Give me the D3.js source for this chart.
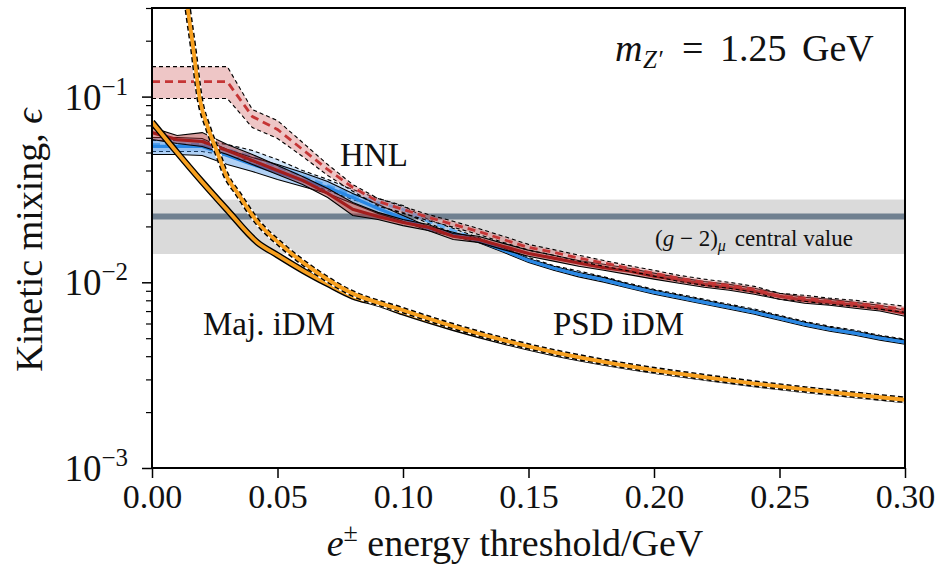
<!DOCTYPE html>
<html>
<head>
<meta charset="utf-8">
<script src="https://cdn.jsdelivr.net/npm/d3@7"></script>
<style>
  body { margin: 0; background: #fff; }
  svg { display: block; }
  text { font-family: "Liberation Serif", "DejaVu Serif", serif; fill: #111; }
</style>
</head>
<body>
<svg id="chart" width="936" height="570"></svg>
<script>
// energy threshold grid (GeV)
const grid = [0, 0.01, 0.02, 0.03, 0.04, 0.05, 0.06, 0.07, 0.08, 0.09, 0.10, 0.11, 0.12, 0.13, 0.14, 0.15,
              0.16, 0.17, 0.18, 0.19, 0.20, 0.21, 0.22, 0.23, 0.24, 0.25, 0.26, 0.27, 0.28, 0.29, 0.30];

// HNL, solid band
const hnlSolidMid = [0.0640, 0.0587, 0.0573, 0.0513, 0.0453, 0.0400, 0.0354, 0.0301, 0.0247, 0.0226, 0.0210, 0.0198, 0.0177, 0.0170, 0.0156, 0.0143,
                     0.0135, 0.0127, 0.0120, 0.0115, 0.0108, 0.0103, 0.00975, 0.0094, 0.00894, 0.00841, 0.0080, 0.0078, 0.00752, 0.00725, 0.00681];
const hnlSolidHi  = [0.0681, 0.0617, 0.0640, 0.0552, 0.0488, 0.0426, 0.0371, 0.0320, 0.0269, 0.0238, 0.0218, 0.0205, 0.0183, 0.0177, 0.0162, 0.0149,
                     0.0140, 0.0131, 0.0125, 0.0119, 0.0112, 0.0106, 0.0101, 0.00975, 0.00928, 0.00873, 0.00831, 0.0081, 0.0078, 0.00752, 0.00707];
const hnlSolidLo  = [0.0587, 0.0559, 0.0539, 0.0488, 0.0431, 0.0381, 0.0336, 0.0286, 0.0229, 0.0218, 0.0202, 0.0190, 0.0170, 0.0164, 0.0150, 0.0138,
                     0.0130, 0.0122, 0.0116, 0.0110, 0.0104, 0.00988, 0.0094, 0.00906, 0.00862, 0.0081, 0.00771, 0.00752, 0.00725, 0.0070, 0.00656];

// HNL, dashed band
const hnlDashMid = [0.1204, 0.1204, 0.1204, 0.1204, 0.0781, 0.0665, 0.0519, 0.0405, 0.0324, 0.0273, 0.0247, 0.0224, 0.0205, 0.0188, 0.0170, 0.0154,
                    0.0145, 0.0135, 0.0127, 0.0119, 0.0112, 0.0105, 0.0100, 0.00963, 0.00917, 0.00841, 0.00821, 0.0079, 0.00771, 0.00743, 0.00716];
const hnlDashHi  = [0.145, 0.145, 0.145, 0.145, 0.0851, 0.0743, 0.0566, 0.0431, 0.0336, 0.0283, 0.0256, 0.0232, 0.0213, 0.0195, 0.0177, 0.0160,
                    0.0150, 0.0140, 0.0131, 0.0123, 0.0116, 0.0109, 0.0104, 0.0100, 0.00951, 0.00873, 0.00851, 0.00821, 0.0080, 0.00771, 0.00743];
const hnlDashLo  = [0.0976, 0.0976, 0.0976, 0.0976, 0.0681, 0.0595, 0.0476, 0.0376, 0.0309, 0.0259, 0.0235, 0.0215, 0.0198, 0.0181, 0.0164, 0.0149,
                    0.0140, 0.0130, 0.0122, 0.0115, 0.0108, 0.0101, 0.00963, 0.00928, 0.00884, 0.0081, 0.0079, 0.00761, 0.00743, 0.00716, 0.0069];

// PSD iDM, solid band
const psdSolidMid = [0.0539, 0.0539, 0.0539, 0.0482, 0.0431, 0.0390, 0.0354, 0.0324, 0.0286, 0.0250, 0.0221, 0.0195, 0.0181, 0.0168, 0.0149, 0.0131,
                     0.0119, 0.0110, 0.0103, 0.00951, 0.00884, 0.00831, 0.0078, 0.00734, 0.0069, 0.0064, 0.00594, 0.00559, 0.00532, 0.0050, 0.00476];
const psdSolidHi  = [0.0602, 0.0602, 0.0595, 0.0519, 0.0470, 0.0431, 0.0390, 0.0349, 0.0301, 0.0263, 0.0229, 0.0200, 0.0186, 0.0172, 0.0153, 0.0134,
                     0.0122, 0.0113, 0.0106, 0.00975, 0.00906, 0.00852, 0.0080, 0.00752, 0.00707, 0.00656, 0.00609, 0.00573, 0.00545, 0.00513, 0.00488];
const psdSolidLo  = [0.0488, 0.0488, 0.0482, 0.0431, 0.0395, 0.0358, 0.0328, 0.0301, 0.0266, 0.0235, 0.0213, 0.0190, 0.0177, 0.0164, 0.0145, 0.0128,
                     0.0116, 0.0107, 0.0100, 0.00928, 0.00862, 0.00811, 0.00761, 0.00716, 0.00673, 0.00624, 0.00580, 0.00545, 0.00519, 0.00488, 0.00464];

// PSD iDM, dashed band
const psdDashMid = [0.0552, 0.0552, 0.0552, 0.0519, 0.0476, 0.0420, 0.0371, 0.0332, 0.0297, 0.0269, 0.0247, 0.0213, 0.0190, 0.0170, 0.0150, 0.0133,
                    0.0120, 0.0112, 0.0104, 0.00963, 0.00894, 0.00841, 0.0079, 0.00743, 0.0070, 0.00648, 0.00601, 0.00566, 0.00539, 0.00506, 0.00482];
const psdDashHi  = [0.0580, 0.0580, 0.0580, 0.0552, 0.0513, 0.0458, 0.0400, 0.0358, 0.0316, 0.0283, 0.0259, 0.0218, 0.0195, 0.0174, 0.0154, 0.0136,
                    0.0123, 0.0115, 0.0107, 0.00987, 0.00916, 0.00862, 0.0081, 0.00762, 0.00718, 0.00664, 0.00616, 0.0058, 0.00552, 0.00519, 0.00494];
const psdDashLo  = [0.0506, 0.0506, 0.0506, 0.0482, 0.0447, 0.0395, 0.0349, 0.0312, 0.0279, 0.0256, 0.0238, 0.0208, 0.0185, 0.0166, 0.0146, 0.0130,
                    0.0117, 0.0109, 0.0101, 0.0094, 0.00872, 0.00820, 0.00771, 0.00725, 0.00683, 0.00632, 0.00586, 0.00552, 0.00526, 0.00494, 0.0047];

// Majorana iDM
const majX     = [0, 0.01, 0.02, 0.03, 0.042, 0.05, 0.06, 0.07, 0.08, 0.09, 0.10, 0.12, 0.14, 0.16, 0.18, 0.20, 0.22, 0.24, 0.26, 0.28, 0.30];
const majSolid = [0.073, 0.050, 0.0347, 0.0245, 0.0164, 0.0140, 0.0116, 0.0098, 0.0084, 0.0077, 0.0069, 0.00569, 0.00481, 0.00416, 0.0037,
                  0.00335, 0.00307, 0.00283, 0.00264, 0.00247, 0.00232];
const majDashX = [0.0124, 0.0143, 0.0163, 0.0191, 0.0223, 0.0259, 0.0299, 0.0339, 0.0418, 0.0522, 0.0657, 0.0789, 0.0988, 0.12, 0.14, 0.16,
                  0.18, 0.20, 0.22, 0.24, 0.26, 0.28, 0.30];
const majDash  = [0.482, 0.294, 0.188, 0.0963, 0.0681, 0.0506, 0.0367, 0.0305, 0.0213, 0.0156, 0.0113, 0.00884, 0.00716, 0.0058, 0.00488, 0.00421,
                  0.00373, 0.00337, 0.00309, 0.00285, 0.00265, 0.00248, 0.00233];

// (g-2)_mu band
const g2Lo = 0.0142, g2Central = 0.0226, g2Hi = 0.0279;

// ticks
const xTicks = [0, 0.05, 0.10, 0.15, 0.20, 0.25, 0.30];
const yMajor = [1e-3, 1e-2, 1e-1];
const yExp = ["\u22123", "\u22122", "\u22121"];
const yMinor = [2e-3, 3e-3, 4e-3, 5e-3, 6e-3, 7e-3, 8e-3, 9e-3, 2e-2, 3e-2, 4e-2, 5e-2, 6e-2, 7e-2, 8e-2, 9e-2, 2e-1, 3e-1];

const svg = d3.select("#chart");
const m = { left: 152, right: 905, top: 8, bottom: 468 };
const x = d3.scaleLinear().domain([0, 0.3]).range([m.left, m.right]);
const y = d3.scaleLog().domain([1e-3, 0.3]).range([m.bottom, m.top]);

svg.append("clipPath").attr("id", "plot").append("rect")
    .attr("x", m.left).attr("y", m.top)
    .attr("width", m.right - m.left).attr("height", m.bottom - m.top);
const g = svg.append("g").attr("clip-path", "url(#plot)");

// g-2 band + central value
g.append("rect")
    .attr("x", m.left).attr("width", m.right - m.left)
    .attr("y", y(g2Hi)).attr("height", y(g2Lo) - y(g2Hi))
    .attr("fill", "#dadada");
g.append("line")
    .attr("x1", m.left).attr("x2", m.right)
    .attr("y1", y(g2Central)).attr("y2", y(g2Central))
    .attr("stroke", "#708090").attr("stroke-width", 6);

function band(xs, lo, mid, hi, o) {
    const pts = xs.map((d, i) => ({ x: d, lo: lo[i], mid: mid[i], hi: hi[i] }));
    g.append("path").datum(pts)
        .attr("d", d3.area().x(d => x(d.x)).y0(d => y(d.lo)).y1(d => y(d.hi)))
        .attr("fill", o.fill);
    for (let k of ["lo", "hi"]) {
        g.append("path").datum(pts)
            .attr("d", d3.line().x(d => x(d.x)).y(d => y(d[k])))
            .attr("fill", "none").attr("stroke", "#000").attr("stroke-width", 1.1)
            .attr("stroke-dasharray", o.dashed ? "4,3" : null);
    }
    g.append("path").datum(pts)
        .attr("d", d3.line().x(d => x(d.x)).y(d => y(d.mid)))
        .attr("fill", "none").attr("stroke", o.color).attr("stroke-width", o.width || 2.8)
        .attr("stroke-dasharray", o.dashed ? "8,5" : null);
}

// thin orange bands: black edge drawn as a wider stroke underneath
function tube(xs, vals, dashed) {
    const line = d3.line().x((d, i) => x(xs[i])).y(d => y(d)).curve(d3.curveMonotoneX);
    if (dashed) {
        g.append("path").attr("d", line(vals)).attr("fill", "none")
            .attr("stroke", "#fff").attr("stroke-width", 6.5);
    }
    g.append("path").attr("d", line(vals)).attr("fill", "none")
        .attr("stroke", "#000").attr("stroke-width", 6.5)
        .attr("stroke-dasharray", dashed ? "5,3" : null);
    g.append("path").attr("d", line(vals)).attr("fill", "none")
        .attr("stroke", "#f7a020").attr("stroke-width", 3.8);
}

band(grid, psdDashLo, psdDashMid, psdDashHi, { fill: "rgba(120,180,240,0.35)", color: "#62aef2", dashed: true });
band(grid, psdSolidLo, psdSolidMid, psdSolidHi, { fill: "rgba(60,140,230,0.4)", color: "#2a88e4", dashed: false, width: 3.2 });
band(grid, hnlSolidLo, hnlSolidMid, hnlSolidHi, { fill: "rgba(170,40,40,0.45)", color: "#a31d1d", dashed: false, width: 3.2 });
band(grid, hnlDashLo, hnlDashMid, hnlDashHi, { fill: "rgba(205,92,92,0.35)", color: "#c53535", dashed: true });
tube(majX, majSolid, false);
tube(majDashX, majDash, true);

// axes
const xAxis = svg.append("g")
    .attr("transform", `translate(0,${m.bottom})`)
    .call(d3.axisBottom(x).tickValues(xTicks).tickFormat(d3.format(".2f")).tickSize(10).tickPadding(6));
xAxis.select(".domain").remove();
xAxis.attr("font-size", 34).attr("font-family", "Liberation Serif, serif");
xAxis.selectAll("line").attr("stroke-width", 1.5);

const yAxis = svg.append("g")
    .attr("transform", `translate(${m.left},0)`)
    .call(d3.axisLeft(y).tickValues(yMajor).tickFormat("").tickSize(10));
yAxis.select(".domain").remove();
yAxis.selectAll("line").attr("stroke-width", 1.5);

const yMinorAxis = svg.append("g")
    .attr("transform", `translate(${m.left},0)`)
    .call(d3.axisLeft(y).tickValues(yMinor).tickFormat("").tickSize(6));
yMinorAxis.select(".domain").remove();
yMinorAxis.selectAll("line").attr("stroke-width", 1.2);

svg.append("g").selectAll("text")
    .data(yMajor)
    .join("text")
    .attr("x", 128).attr("y", d => y(d) + 13)
    .attr("text-anchor", "end").attr("font-size", 37)
    .each(function (d, i) {
        const t = d3.select(this);
        t.append("tspan").text("10");
        t.append("tspan").attr("font-size", 25).attr("dy", -15).text(yExp[i]);
    });

// frame
svg.append("rect")
    .attr("x", m.left).attr("y", m.top)
    .attr("width", m.right - m.left).attr("height", m.bottom - m.top)
    .attr("fill", "none").attr("stroke", "#000").attr("stroke-width", 2);

// axis labels
const xl = svg.append("text").attr("x", 515).attr("y", 556).attr("text-anchor", "middle").attr("font-size", 38);
xl.append("tspan").attr("font-style", "italic").text("e");
xl.append("tspan").attr("font-size", 26).attr("dy", -15).text("\u00b1");
xl.append("tspan").attr("dy", 15).text(" energy threshold/GeV");

const yl = svg.append("text")
    .attr("transform", "translate(42,240) rotate(-90)")
    .attr("text-anchor", "middle").attr("font-size", 38);
yl.append("tspan").text("Kinetic mixing, ");
yl.append("tspan").attr("font-style", "italic").text("\u03f5");

// annotations
const mz = svg.append("text").attr("y", 61).attr("font-size", 38);
mz.append("tspan").attr("x", 615).attr("font-style", "italic").text("m");
mz.append("tspan").attr("x", 643).attr("dy", 7).attr("font-size", 25).attr("font-style", "italic").text("Z\u2032");
mz.append("tspan").attr("x", 682).attr("dy", -7).text("=");
mz.append("tspan").attr("x", 720).text("1.25");
mz.append("tspan").attr("x", 802).text("GeV");

svg.append("text").attr("x", 340).attr("y", 166).attr("font-size", 33).text("HNL");
svg.append("text").attr("x", 203).attr("y", 335).attr("font-size", 33).text("Maj. iDM");
svg.append("text").attr("x", 553).attr("y", 335).attr("font-size", 33).text("PSD iDM");

const g2t = svg.append("text").attr("x", 655).attr("y", 246).attr("font-size", 23);
g2t.append("tspan").text("(");
g2t.append("tspan").attr("font-style", "italic").text("g");
g2t.append("tspan").text(" \u2212 2)");
g2t.append("tspan").attr("font-style", "italic").attr("font-size", 16).attr("dy", 5).text("\u03bc");
g2t.append("tspan").attr("dy", -5).attr("dx", 9).text("central value");
</script>
</body>
</html>
